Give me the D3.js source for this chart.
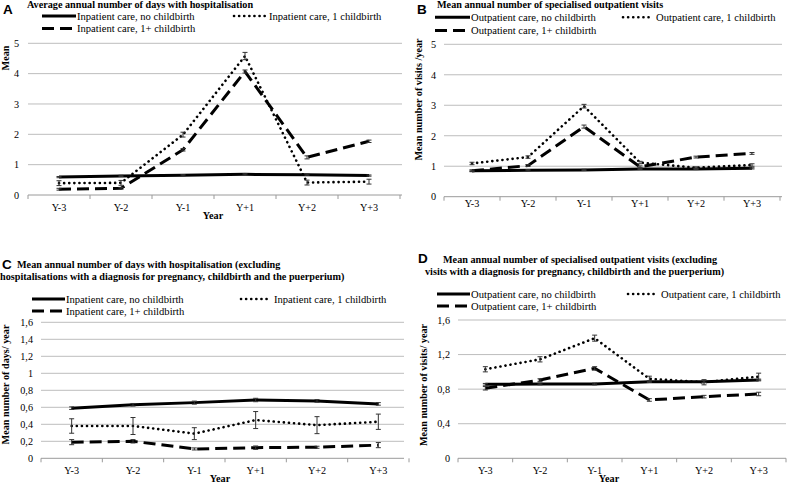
<!DOCTYPE html>
<html><head><meta charset="utf-8">
<script src="https://cdn.jsdelivr.net/npm/d3@7"></script>
<style>
html,body{margin:0;padding:0;background:#fff;}
svg{display:block;}
text{font-family:"Liberation Serif","Times New Roman",serif;fill:#000;}
text.letter{font-family:"Liberation Sans",Arial,sans-serif;font-weight:bold;}
</style></head>
<body>
<svg id="chart" width="787" height="483"></svg>
<script>
// ---------- DATA ----------
const years = ["Y-3","Y-2","Y-1","Y+1","Y+2","Y+3"];

const inpatientNames = ["Inpatient care, no childbirth","Inpatient care, 1 childbirth","Inpatient care, 1+ childbirth"];
const outpatientNames = ["Outpatient care, no childbirth","Outpatient care, 1 childbirth","Outpatient care, 1+ childbirth"];

// Panel A
const aNone  = [0.59,0.63,0.65,0.68,0.67,0.64];
const aOne   = [0.39,0.40,1.99,4.58,0.41,0.44];
const aMulti = [0.19,0.22,1.49,4.07,1.24,1.77];
const aNoneErr  = [0.02,0.02,0.02,0.02,0.02,0.02];
const aOneErr   = [0.08,0.08,0.08,0.12,0.08,0.08];
const aMultiErr = [0.03,0.03,0.04,0.05,0.05,0.04];
const ticksA = [0,1,2,3,4,5];

// Panel B
const bNone  = [0.85,0.87,0.88,0.91,0.91,0.93];
const bOne   = [1.09,1.30,2.97,1.12,0.95,1.04];
const bMulti = [0.85,1.02,2.30,0.98,1.30,1.42];
const bNoneErr  = [0.02,0.02,0.02,0.02,0.02,0.02];
const bOneErr   = [0.04,0.04,0.06,0.04,0.03,0.04];
const bMultiErr = [0.03,0.03,0.05,0.03,0.03,0.03];
const ticksB = [0,1,2,3,4,5];

// Panel C
const cNone  = [0.59,0.63,0.655,0.686,0.675,0.64];
const cOne   = [0.38,0.38,0.29,0.45,0.39,0.43];
const cMulti = [0.19,0.20,0.11,0.125,0.13,0.155];
const cNoneErr  = [0.015,0.015,0.018,0.02,0.015,0.015];
const cOneErr   = [0.085,0.10,0.07,0.10,0.10,0.09];
const cMultiErr = [0.03,0.02,0.012,0.02,0.012,0.03];
const ticksC = [0,0.2,0.4,0.6,0.8,1,1.2,1.4,1.6];

// Panel D
const dNone  = [0.856,0.86,0.86,0.887,0.887,0.906];
const dOne   = [1.03,1.145,1.39,0.92,0.88,0.945];
const dMulti = [0.81,0.905,1.04,0.675,0.713,0.744];
const dNoneErr  = [0.01,0.01,0.01,0.01,0.01,0.01];
const dOneErr   = [0.03,0.03,0.035,0.03,0.03,0.04];
const dMultiErr = [0.02,0.015,0.02,0.015,0.015,0.02];
const ticksD = [0,0.4,0.8,1.2,1.6];

// ---------- DRAW ----------
const svg = d3.select("#chart");
const fmt = v => String(v).replace(".", ",");
const FS = "10.2px";
const LFS = "10.6px";

const styles = [
  {width:3,   dash:null,      cap:"butt"},
  {width:2.6, dash:"0.1 5",   cap:"round"},
  {width:3,   dash:"12 6",    cap:"butt"}
];

function drawPanel(p){
  const g = svg.append("g");
  const x = d3.scaleBand().domain(years).range(p.xr);
  const y = d3.scaleLinear().domain([0, p.ticks[p.ticks.length-1]]).range(p.yr);

  g.selectAll(".grid").data(p.ticks.filter(t=>t>0)).enter().append("line")
    .attr("x1", p.xr[0]).attr("x2", p.gridEnd || p.xr[1])
    .attr("y1", d=>y(d)).attr("y2", d=>y(d))
    .attr("stroke", "#bdbdbd").attr("stroke-width", 1);

  const xAxis = d3.axisBottom(x).tickSize(0).tickPadding(0);
  const ax = g.append("g").attr("transform", `translate(0,${p.yr[0]})`).call(xAxis);
  ax.select(".domain").attr("stroke", "#9a9a9a").attr("stroke-width",1)
    .attr("d", `M${p.xr[0]},0H${p.gridEnd || p.xr[1]}`);
  ax.selectAll(".tick text").attr("y", p.tickBase).attr("dy", 0)
    .attr("font-size", FS).attr("font-family", "Liberation Serif");
  const bounds = years.map(d=>x(d)).concat([p.xr[1]]);
  g.selectAll(".bt").data(bounds).enter().append("line")
    .attr("x1", d=>d).attr("x2", d=>d)
    .attr("y1", p.yr[0]).attr("y2", p.yr[0]+4)
    .attr("stroke", "#9a9a9a").attr("stroke-width", 1);

  const yAxis = d3.axisLeft(y).tickValues(p.ticks).tickFormat(fmt).tickSize(0).tickPadding(0);
  const ay = g.append("g").attr("transform", `translate(${p.yLabelX},0)`).call(yAxis);
  ay.select(".domain").remove();
  ay.selectAll(".tick text").attr("font-size", FS).attr("font-family","Liberation Serif").attr("x", 0);

  const line = d3.line().x((d,i)=>x(years[i]) + x.bandwidth()/2).y(d=>y(d));
  p.series.forEach((s,k)=>{
    const st = styles[k];
    g.append("path").datum(s.values).attr("d", line)
      .attr("fill","none").attr("stroke","#000")
      .attr("stroke-width", st.width)
      .attr("stroke-dasharray", st.dash)
      .attr("stroke-linecap", st.cap)
      .attr("stroke-linejoin","round");
  });
  p.series.forEach(s=>{
    s.values.forEach((v,i)=>{
      const cx = x(years[i]) + x.bandwidth()/2;
      const e = s.err[i];
      const y1 = y(v+e), y2 = y(v-e);
      g.append("line").attr("x1",cx).attr("x2",cx).attr("y1",y1).attr("y2",y2)
        .attr("stroke","#333").attr("stroke-width",1);
      [y1,y2].forEach(yy=>g.append("line").attr("x1",cx-2.5).attr("x2",cx+2.5)
        .attr("y1",yy).attr("y2",yy).attr("stroke","#333").attr("stroke-width",1));
    });
  });

  const L = p.legend;
  const pos = [
    {x1:L.x1, x2:L.x2, y:L.y1, tx:L.x2+1},
    {x1:L.dx1, x2:L.dx2, y:L.y1, tx:L.dx2+4},
    {x1:L.x1, x2:L.x2-3, y:L.y2, tx:L.x2+1}
  ];
  p.names.forEach((n,k)=>{
    const st = styles[k], q = pos[k];
    g.append("line").attr("x1",q.x1).attr("x2",q.x2).attr("y1",q.y).attr("y2",q.y)
      .attr("stroke","#000").attr("stroke-width",st.width)
      .attr("stroke-dasharray",st.dash).attr("stroke-linecap",st.cap);
    g.append("text").attr("x",q.tx).attr("y",q.y+3.5).attr("font-size",LFS).text(n);
  });

  g.append("text").attr("class","letter").attr("x",p.letter.x).attr("y",p.letter.y)
    .attr("font-size","13.5px").text(p.letter.t);
  p.title.forEach(t=>{
    g.append("text").attr("x",t.x).attr("y",t.y).attr("font-weight","bold")
      .attr("font-size",FS).text(t.t);
  });
  g.append("text").attr("transform",`translate(${p.yTitle.x},${p.yTitle.y}) rotate(-90)`)
    .attr("text-anchor","middle").attr("font-weight","bold").attr("font-size",FS)
    .text(p.yTitle.t);
  if(p.xTitle){
    g.append("text").attr("x",p.xTitle.x).attr("y",p.xTitle.y).attr("text-anchor","middle")
      .attr("font-weight","bold").attr("font-size",FS).text("Year");
  }
}

drawPanel({
  xr:[28,400], gridEnd:402, yr:[195,43.3], ticks:ticksA, tickBase:15.5, yLabelX:19,
  series:[{values:aNone,err:aNoneErr},{values:aOne,err:aOneErr},{values:aMulti,err:aMultiErr}],
  names:inpatientNames,
  legend:{x1:42,x2:76,dx1:234,dx2:265,y1:16,y2:28.5},
  letter:{x:3,y:13.5,t:"A"},
  title:[{x:27,y:7.5,t:"Average annual number of days with hospitalisation"}],
  yTitle:{x:8.5,y:58,t:"Mean"},
  xTitle:{x:213,y:218.5}
});
drawPanel({
  xr:[444,780], gridEnd:782, yr:[196.7,44.3], ticks:ticksB, tickBase:10, yLabelX:436,
  series:[{values:bNone,err:bNoneErr},{values:bOne,err:bOneErr},{values:bMulti,err:bMultiErr}],
  names:outpatientNames,
  legend:{x1:435,x2:470,dx1:623,dx2:652,y1:17.3,y2:30.5},
  letter:{x:417,y:13.5,t:"B"},
  title:[{x:437,y:8,t:"Mean annual number of specialised outpatient visits"}],
  yTitle:{x:421.5,y:99.5,t:"Mean number of visits /year"},
  xTitle:null
});
drawPanel({
  xr:[41,409], gridEnd:404, yr:[458.3,322.3], ticks:ticksC, tickBase:16, yLabelX:33,
  series:[{values:cNone,err:cNoneErr},{values:cOne,err:cOneErr},{values:cMulti,err:cMultiErr}],
  names:inpatientNames,
  legend:{x1:32,x2:65,dx1:241,dx2:270,y1:299,y2:311},
  letter:{x:2,y:268.5,t:"C"},
  title:[{x:17,y:268,t:"Mean annual number of days with hospitalisation (excluding"},
         {x:0,y:279.5,t:"hospitalisations with a diagnosis for pregnancy, childbirth and the puerperium)"}],
  yTitle:{x:8.5,y:384.5,t:"Mean number of  days/ year"},
  xTitle:{x:220,y:482}
});
drawPanel({
  xr:[458,786], gridEnd:786, yr:[458.3,320], ticks:ticksD, tickBase:16, yLabelX:450,
  series:[{values:dNone,err:dNoneErr},{values:dOne,err:dOneErr},{values:dMulti,err:dMultiErr}],
  names:outpatientNames,
  legend:{x1:437,x2:470,dx1:628,dx2:657,y1:294,y2:306},
  letter:{x:418,y:262.5,t:"D"},
  title:[{x:443,y:263,t:"Mean annual number of specialised outpatient visits (excluding"},
         {x:425,y:274.5,t:"visits with a diagnosis for pregnancy, childbirth and the puerperium)"}],
  yTitle:{x:426.5,y:385,t:"Mean number of visits/ year"},
  xTitle:{x:609,y:482}
});
</script>
</body></html>
